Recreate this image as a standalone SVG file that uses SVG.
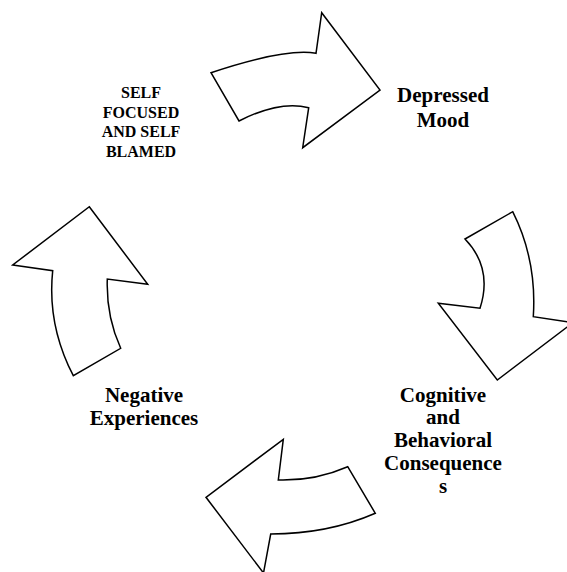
<svg xmlns="http://www.w3.org/2000/svg" width="567" height="572" viewBox="0 0 567 572">
<style>
.arrow{fill:#fff;stroke:#000;stroke-width:1.5;stroke-linejoin:miter}
.lbl{font-family:"Liberation Serif","Times New Roman",serif;font-weight:bold;fill:#000;text-anchor:middle}
.big{font-size:21px}
.small{font-size:16px}
</style>
<rect width="567" height="572" fill="#fff"/>
<g id="connectors">
<path class="arrow" d="M211,72.7 Q285,48 316,53.3 L321.7,12.7 L380,90 L302.7,147.7 L308.7,107.7 Q280,100 239,121 Z"/>
<path class="arrow" d="M465,239 L512.7,211.7 Q537,260 533.3,316.7 L573,322.6 L497.3,380 L438.3,303.3 L480,308.3 Q493,268 465,239 Z"/>
<path class="arrow" d="M347.7,466.7 L375.3,513.3 Q328,534 270.7,534 L263.5,573 L206,497.3 L283.3,439.3 L278.3,480 Q315,481 347.7,466.7 Z"/>
<path class="arrow" d="M89.3,206.7 L147.7,284.3 L107.3,279 Q106,316 120.7,348.3 L73.3,375.7 Q47,325 52.7,270.7 L12.7,265 Z"/>
</g>
<g id="node-self">
<text class="lbl small" x="141" y="98">SELF</text>
<text class="lbl small" x="141" y="117.5">FOCUSED</text>
<text class="lbl small" x="141" y="137">AND SELF</text>
<text class="lbl small" x="141" y="156.5">BLAMED</text>
</g>
<g id="node-depressed">
<text class="lbl big" x="443" y="102.3">Depressed</text>
<text class="lbl big" x="443" y="126.7">Mood</text>
</g>
<g id="node-cognitive">
<text class="lbl big" x="443" y="401.5">Cognitive</text>
<text class="lbl big" x="443" y="424.3">and</text>
<text class="lbl big" x="443" y="447">Behavioral</text>
<text class="lbl big" x="443" y="469.7">Consequence</text>
<text class="lbl big" x="443" y="492.5">s</text>
</g>
<g id="node-negative">
<text class="lbl big" x="144" y="401.7">Negative</text>
<text class="lbl big" x="144" y="425">Experiences</text>
</g>
</svg>
